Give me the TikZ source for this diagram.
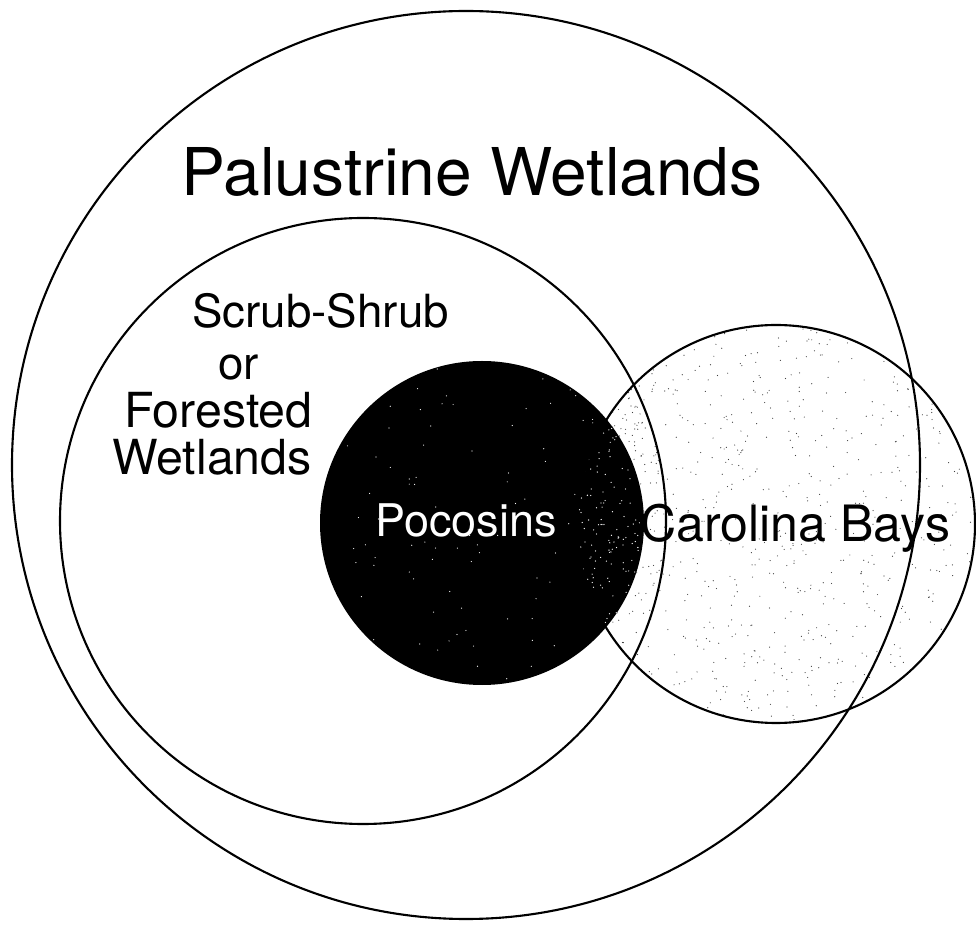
\documentclass[tikz,border=0pt]{standalone}
\usepackage{fontspec}
\setmainfont{TeX Gyre Heros}
\usetikzlibrary{positioning}

\tikzset{
  ring/.style={line width=1.2pt},
  speck/.style={fill=black!75},
  biglabel/.style={font=\fontsize{37.5}{40}\selectfont, inner sep=0pt},
  midlabel/.style={font=\fontsize{26}{28}\selectfont, inner sep=0pt, anchor=base west},
}

\begin{document}
\begin{tikzpicture}
\useasboundingbox (0,0) rectangle (19.52,18.56);
\pgfmathsetseed{7}
% stipple of the Carolina Bays
\begin{scope}
  \clip (15.52,8.08) circle (3.98);
  \foreach \i in {1,...,800}{
    \pgfmathsetmacro\px{11.54+7.96*rnd}
    \pgfmathsetmacro\py{4.10+7.96*rnd}
    \fill[speck] (\px,\py) circle (0.012);
  }
  \clip (7.26,8.14) circle (6.06);
  \foreach \i in {1,...,350}{
    \pgfmathsetmacro\px{11.54+2.2*rnd}
    \pgfmathsetmacro\py{4.10+7.96*rnd}
    \fill[speck] (\px,\py) circle (0.012);
  }
\end{scope}
% pocosins
\fill (9.64,8.10) circle (3.24);
\begin{scope}
  \clip (9.64,8.10) circle (3.24);
  \foreach \i in {1,...,120}{
    \pgfmathsetmacro\px{6.40+6.48*rnd}
    \pgfmathsetmacro\py{4.86+6.48*rnd}
    \fill[white] (\px,\py) circle (0.012);
  }
  \clip (15.52,8.08) circle (3.98);
  \foreach \i in {1,...,260}{
    \pgfmathsetmacro\px{11.4+1.5*rnd}
    \pgfmathsetmacro\py{4.86+6.48*rnd}
    \fill[white] (\px,\py) circle (0.013);
  }
\end{scope}
% outlines
\draw[ring] (9.32,9.26) circle (9.08);
\draw[ring] (7.26,8.14) circle (6.06);
\draw[ring] (15.52,8.08) circle (3.98);

\node[biglabel, anchor=base] (palustrine) at (9.44,14.64) {Palustrine Wetlands};
\node[midlabel] (scrub) at (3.84,12.00) {Scrub-Shrub};
\node[midlabel] (or) at (4.36,10.96) {or};
\node[midlabel, font=\fontsize{27.5}{30}\selectfont] (forested) at (2.48,10.00) {Forested};
\node[midlabel, font=\fontsize{27.5}{30}\selectfont] (wetlands) at (2.24,9.06) {Wetlands};
\node[midlabel, text=white, font=\fontsize{25.6}{28}\selectfont] (pocosins) at (7.50,7.82) {Pocosins};
\node[midlabel, font=\fontsize{28.5}{30}\selectfont] (bays) at (12.80,7.72) {Carolina Bays};
\end{tikzpicture}
\end{document}
